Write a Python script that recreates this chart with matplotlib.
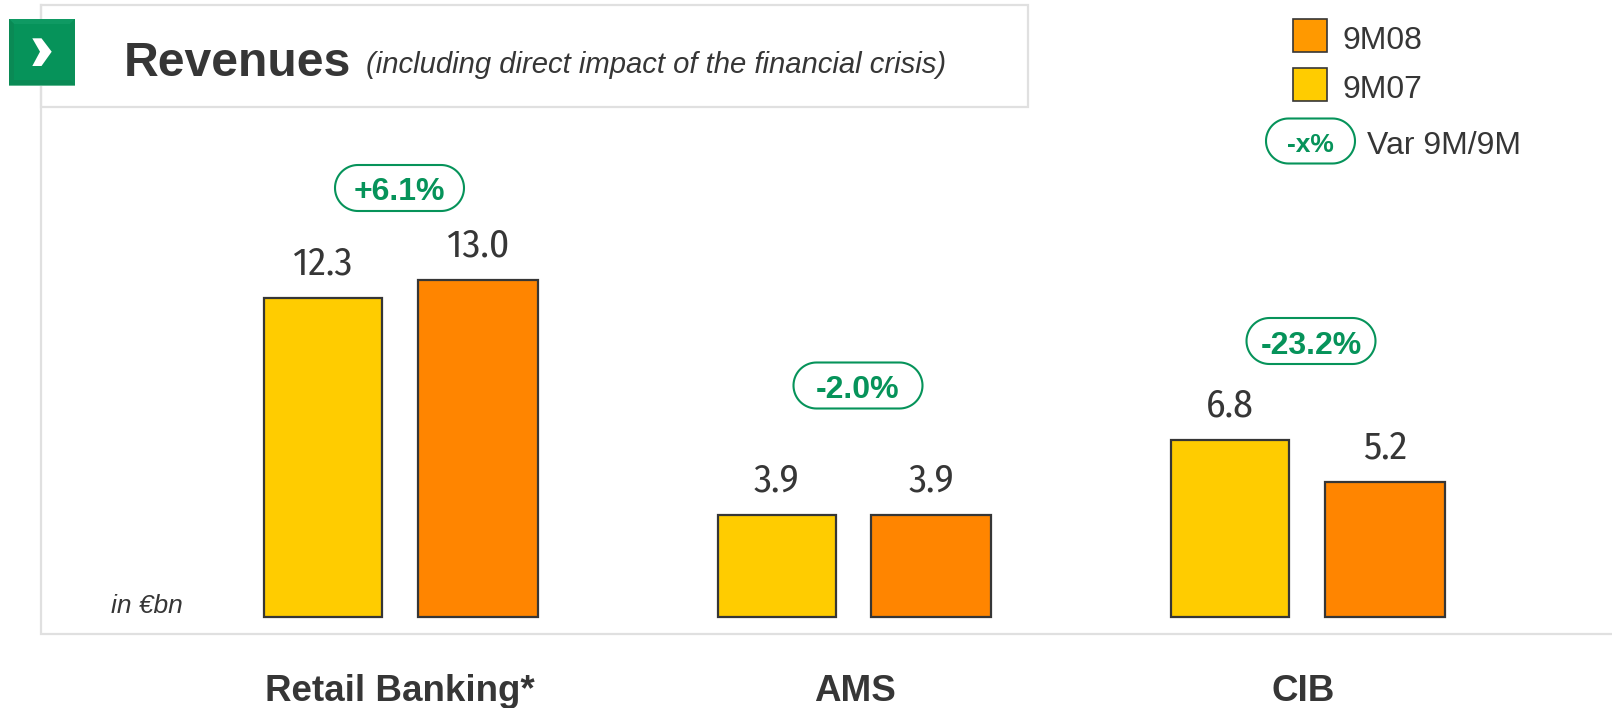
import matplotlib
matplotlib.use("Agg")
import numpy as np
import matplotlib.pyplot as plt
from matplotlib.patches import Rectangle, Polygon
from matplotlib import font_manager as fm

categories = ["Retail Banking*", "AMS", "CIB"]
values_9m07 = [12.3, 3.9, 6.8]
values_9m08 = [13.0, 3.9, 5.2]
variations = ["+6.1%", "-2.0%", "-23.2%"]
series_names = ["9M08", "9M07"]

W, H = 1612, 708
DARK = "#363636"
GREEN = "#06935A"
YEL = "#FFCC00"
ORG = "#FF8500"
LINE = "#E0E0E0"
names = {f.name for f in fm.fontManager.ttflist}
SANS = "Liberation Sans"
NARROW = next((n for n in ["Fira Sans Condensed", "Archivo Narrow", "Barlow Condensed"] if n in names), SANS)

fig = plt.figure(figsize=(W / 100, H / 100), dpi=100, facecolor="white")

# pixel overlay
ov = fig.add_axes([0, 0, 1, 1], zorder=1)
ov.set_xlim(0, W); ov.set_ylim(H, 0); ov.axis("off")

# panel
ov.plot([41, 41, W], [5, 634, 634], color=LINE, lw=1.6, solid_joinstyle="miter", zorder=1)
ov.add_patch(Rectangle((41, 5), 987, 102, fill=False, ec=LINE, lw=1.6, zorder=1))

# icon
Z = 3
ov.add_patch(Rectangle((9, 19), 66, 67, fc=GREEN, ec="none", zorder=Z))
ov.add_patch(Polygon([(9, 19), (75, 19), (70, 24), (14, 24)], fc="#0F9A63", ec="none", zorder=Z))
ov.add_patch(Polygon([(9, 19), (14, 24), (14, 80), (9, 85)], fc="#0A8A55", ec="none", zorder=Z))
ov.add_patch(Polygon([(75, 19), (70, 24), (70, 80), (75, 85)], fc="#0A8F58", ec="none", zorder=Z))
ov.add_patch(Polygon([(9, 85), (75, 85), (70, 80), (14, 80)], fc="#0A8A55", ec="none", zorder=Z))
ov.add_patch(Rectangle((9, 84.5), 66, 1.6, fc="#5FB690", ec="none", zorder=Z))
ov.add_patch(Polygon([(32.3, 38.3), (41.5, 38.3), (51.7, 51.7), (41.5, 66), (32.3, 66), (40, 51.7)],
                     fc="white", ec="none", zorder=Z + 1))

# title
ov.text(124, 76, "Revenues", fontsize=34.7, fontweight="bold", family=SANS, color=DARK, va="baseline")
ov.text(366, 73, "(including direct impact of the financial crisis)", fontsize=21.1, style="italic",
        family=SANS, color=DARK, va="baseline")
ov.text(111, 613, "in €bn", fontsize=19, style="italic", family=SANS, color=DARK, va="baseline")

# bars
px0, step = 400.5, 453.5
base_px, unit_px = 616.5, 25.9
ax = fig.add_axes([0, (H - base_px) / H, 1, base_px / H], zorder=2)
ax.patch.set_alpha(0)
ax.axis("off")
ax.set_xlim(-px0 / step, (W - px0) / step)
ax.set_ylim(0, base_px / unit_px)
xs = list(range(len(categories)))
off = 77.5 / step
for vals, sign, col, bw in [(values_9m07, -1, YEL, 118 / step), (values_9m08, 1, ORG, 120 / step)]:
    xx = [x + sign * off for x in xs]
    ax.bar(xx, vals, width=bw, color=col, edgecolor=DARK, linewidth=1.6, clip_on=False)
    for x, v in zip(xx, vals):
        ax.annotate(f"{v:.1f}", (x, v), xytext=(0, 17), textcoords="offset points", ha="center",
                    va="baseline", fontsize=28.5, family=NARROW, color=DARK)


def pill(cx, cy, w, h, text, fs):
    r = h / 2
    t = np.linspace(-np.pi / 2, np.pi / 2, 40)
    right = np.column_stack([cx + w / 2 - r + r * np.cos(t), cy + r * np.sin(t)])
    left = np.column_stack([cx - w / 2 + r - r * np.cos(t), cy - r * np.sin(t)])
    ov.add_patch(Polygon(np.vstack([right, left]), closed=True, fc="white", ec=GREEN, lw=1.5))
    ov.text(cx, cy + 4.5, text, ha="center", va="center", fontsize=fs, fontweight="bold", family=SANS, color=GREEN)


pill_centers = [(399.5, 188), (858, 385.5), (1311, 341)]
for (cx, cy), t in zip(pill_centers, variations):
    pill(cx, cy, 129, 46, t, 23)

# category labels
for c, name in zip([399.5, 855, 1303.5], categories):
    ov.text(c, 701, name, ha="center", va="baseline", fontsize=26.5, fontweight="bold", family=SANS, color=DARK)

# legend
for y, name, col in [(19, series_names[0], "#FF9900"), (68, series_names[1], YEL)]:
    ov.add_patch(Rectangle((1293, y), 34, 33, fc=col, ec=DARK, lw=1.2))
    ov.text(1343, y + 22, name, va="center", fontsize=23, family=SANS, color=DARK)
pill(1310.5, 141, 89, 45, "-x%", 19)
ov.text(1367, 146, "Var 9M/9M", va="center", fontsize=23, family=SANS, color=DARK)

fig.savefig("out.png", dpi=100, facecolor="white")
